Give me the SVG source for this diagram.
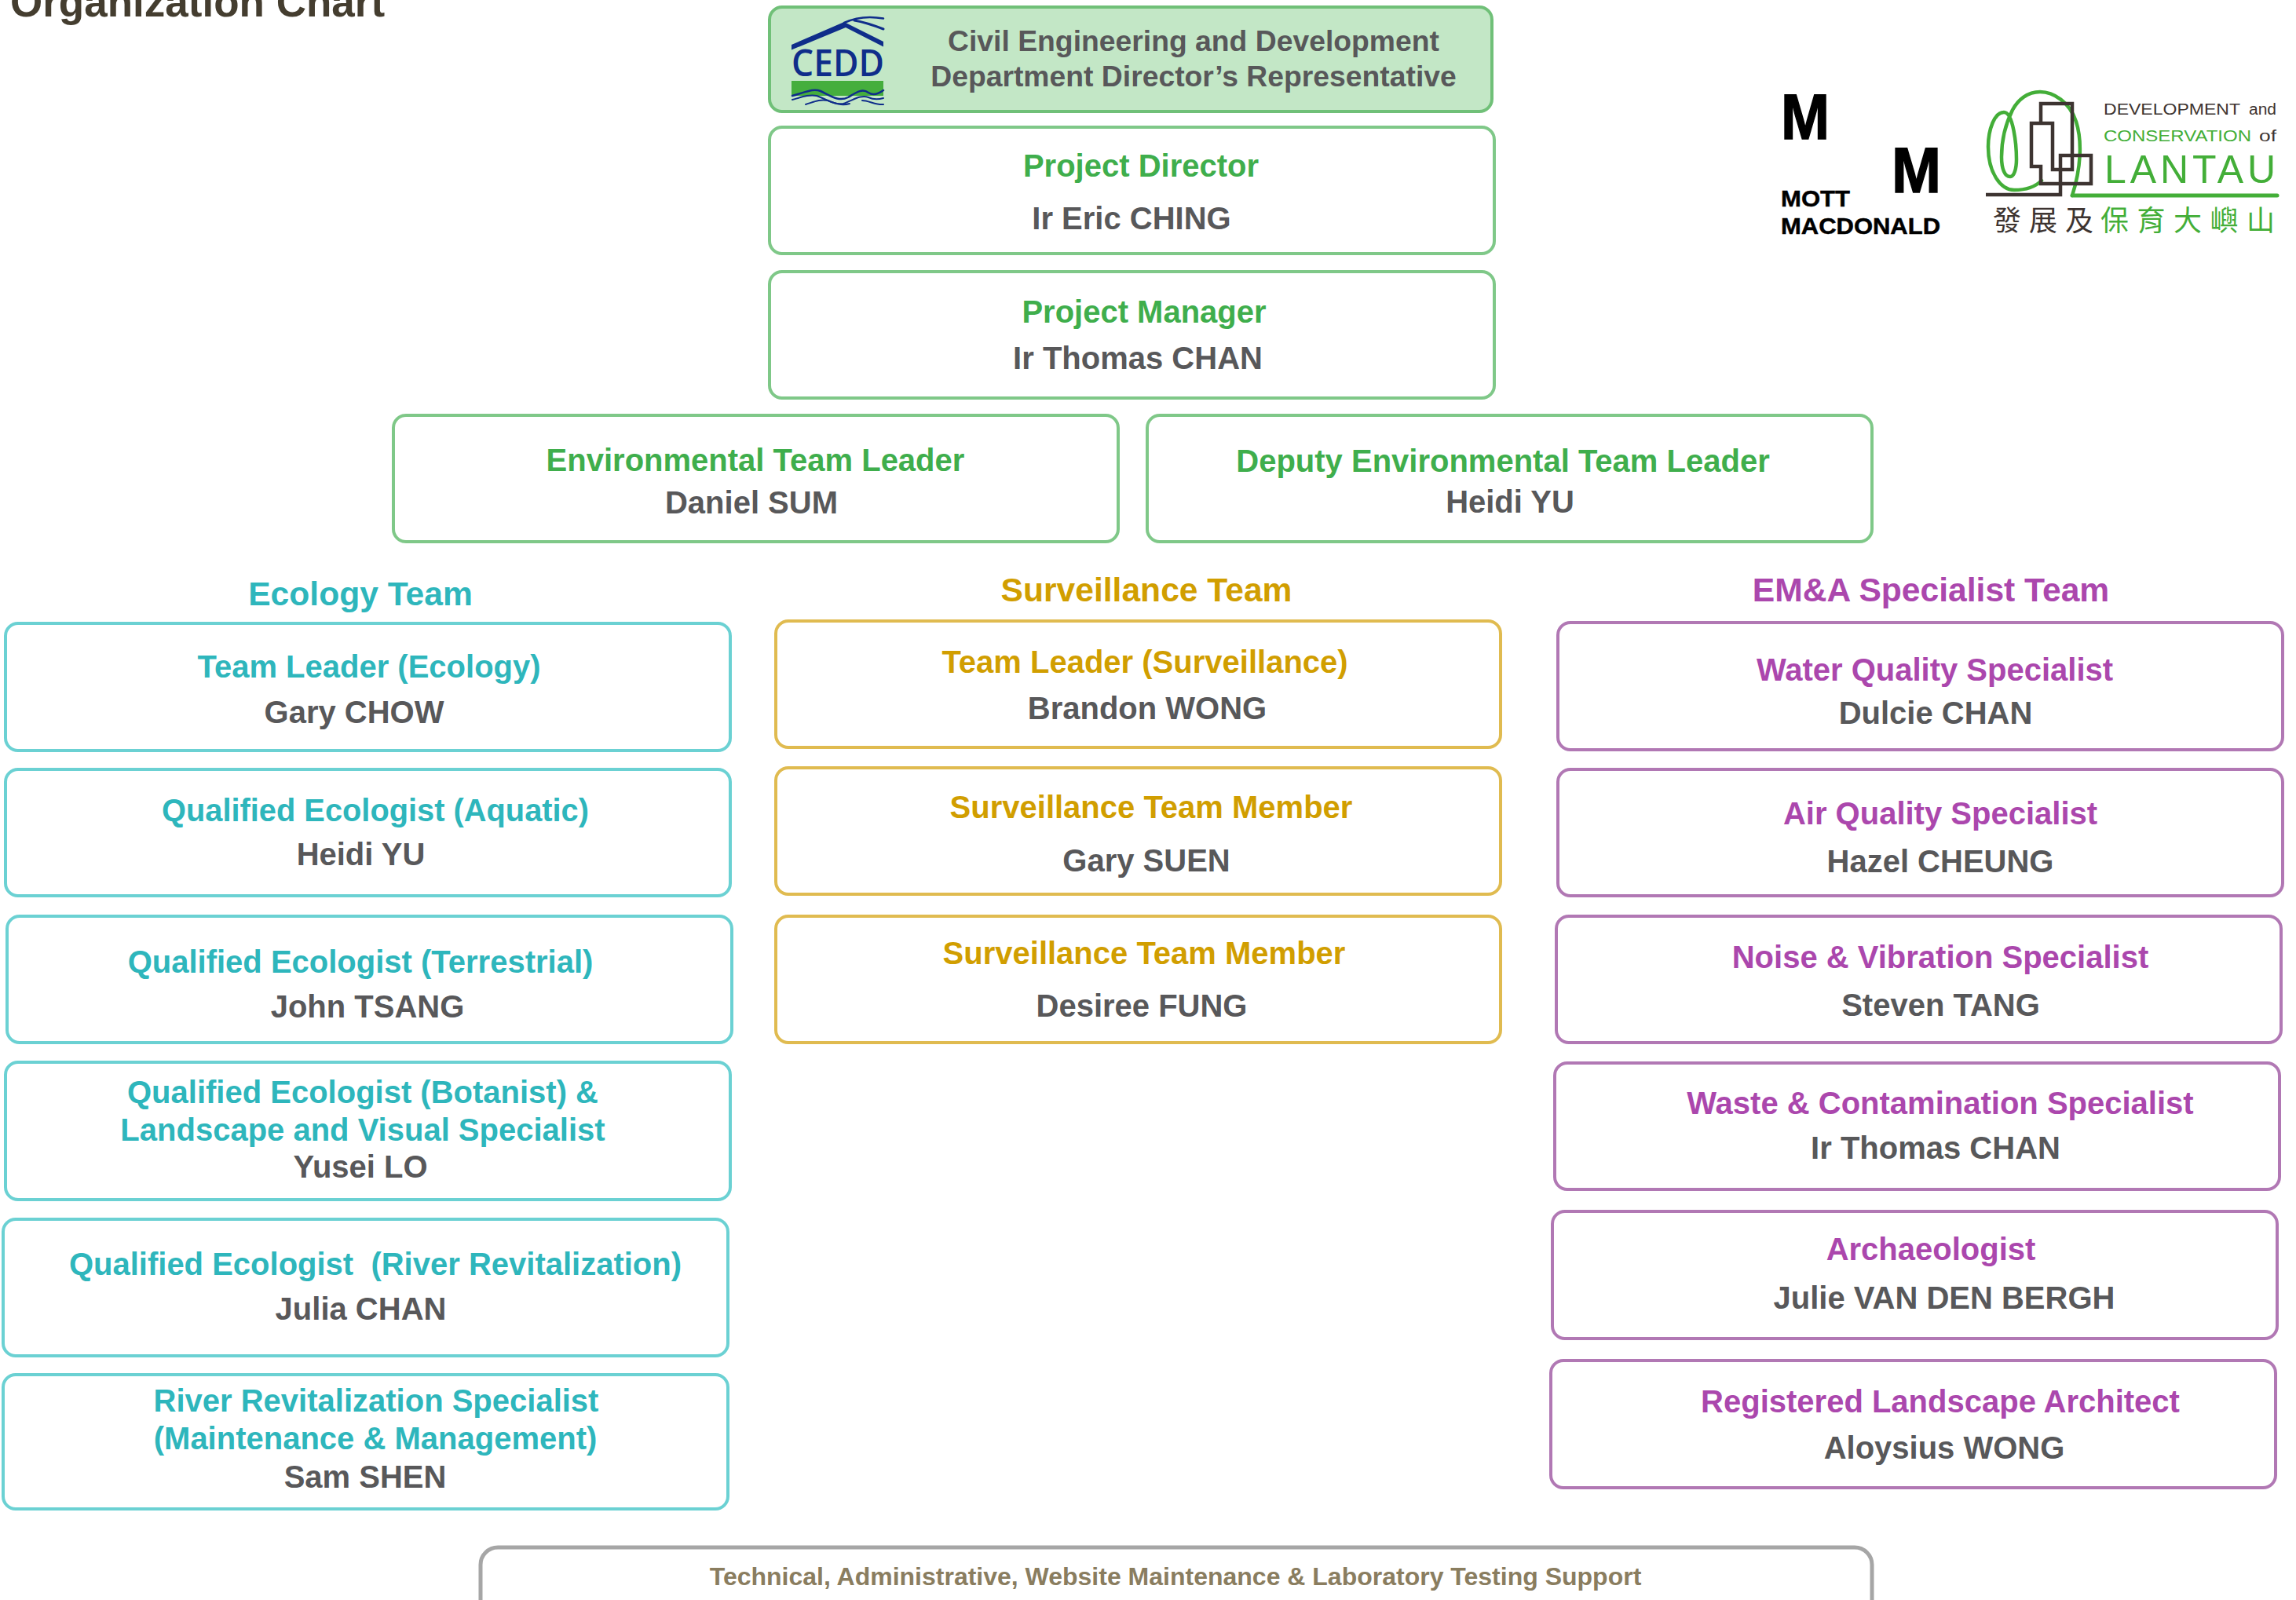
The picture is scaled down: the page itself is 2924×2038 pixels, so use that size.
<svg xmlns="http://www.w3.org/2000/svg" width="2924" height="2038" viewBox="0 0 2924 2038">
<style>
text{font-family:"Liberation Sans",Arial,sans-serif;font-weight:700;text-anchor:middle;font-size:40px}
.box{fill:#fff;stroke-width:4}
.g{stroke:#7fc888}.t{stroke:#6bd1d3}.y{stroke:#e0bb50}.p{stroke:#b178b4}
.tg{fill:#3fae4c}.tt{fill:#2eb6bc}.ty{fill:#d19e00}.tp{fill:#ab47ad}.n{fill:#58585a}
.head{font-size:42.6px}
.lg{text-anchor:start}
.lt{text-anchor:start;font-weight:400}
.ln{fill:none;stroke-linecap:round;stroke-linejoin:round}
.cjk{font-family:"Noto Sans CJK TC","Noto Sans CJK SC",sans-serif;font-size:36px;font-weight:400}
</style>
<rect width="2924" height="2038" fill="#fff"/>
<text id="title" x="13" y="21" style="text-anchor:start;font-size:53px;fill:#443d2f">Organization Chart</text>

<g id="cedd">
<rect x="980" y="9" width="920" height="133" rx="16" fill="#c3e7c6" stroke="#70c078" stroke-width="4"/>
<g id="cedd-logo">
<path d="M1008,57 L1075,28 L1125,53 V59.5 L1077,35 L1008,63.5Z" fill="#0f2d8a"/>
<path class="ln" d="M1075,29 C1090,22 1105,20 1125,23.5" stroke="#0f2d8a" stroke-width="2.5"/>
<path class="ln" d="M1088,26 C1100,28 1112,32 1125,37" stroke="#0f2d8a" stroke-width="3"/>
<text class="lg" x="1008" y="97" textLength="118" lengthAdjust="spacingAndGlyphs" style="font-family:'Open Sans',sans-serif;font-weight:600;font-size:47px;fill:#0f2d8a">CEDD</text>
<rect x="1008" y="103" width="117" height="19" fill="#45ae3d"/>
<path class="ln" d="M1009,122 C1025,118 1035,112 1045,116 C1058,122 1068,130 1080,124 C1090,118 1098,112 1106,118 C1112,122 1118,120 1125,115" stroke="#0f2d8a" stroke-width="2.5"/>
<path class="ln" d="M1009,127 C1020,124 1030,120 1040,122 C1052,126 1062,134 1074,132 C1086,128 1096,120 1106,124 C1112,127 1118,127 1125,125" stroke="#0f2d8a" stroke-width="2"/>
<path class="ln" d="M1026,133 C1036,130 1044,126 1054,128 C1064,132 1072,135 1082,132 M1098,128 C1106,128 1116,134 1125,133" stroke="#0f2d8a" stroke-width="2"/>
</g>
<text class="n" x="1520" y="65" style="font-size:37.3px">Civil Engineering and Development</text>
<text class="n" x="1520" y="110" style="font-size:37.3px">Department Director’s Representative</text>
</g>

<g id="project-director"><rect class="box g" x="980" y="162" width="923" height="161" rx="16"/>
<text class="tg" x="1453" y="225">Project Director</text><text class="n" x="1441" y="292">Ir Eric CHING</text></g>
<g id="project-manager"><rect class="box g" x="980" y="346" width="923" height="161" rx="16"/>
<text class="tg" x="1457" y="411">Project Manager</text><text class="n" x="1449" y="470">Ir Thomas CHAN</text></g>
<g id="env-leader"><rect class="box g" x="501" y="529" width="923" height="161" rx="16"/>
<text class="tg" x="962" y="600">Environmental Team Leader</text><text class="n" x="957" y="654">Daniel SUM</text></g>
<g id="deputy-leader"><rect class="box g" x="1461" y="529" width="923" height="161" rx="16"/>
<text class="tg" x="1914" y="601">Deputy Environmental Team Leader</text><text class="n" x="1923" y="653">Heidi YU</text></g>

<text id="ecology-head" class="tt head" x="459" y="771">Ecology Team</text>
<text id="surveillance-head" class="ty head" x="1460" y="766">Surveillance Team</text>
<text id="specialist-head" class="tp head" x="2459" y="766">EM&amp;A Specialist Team</text>

<g id="eco-1"><rect class="box t" x="7" y="794" width="923" height="162" rx="16"/>
<text class="tt" x="470" y="863">Team Leader (Ecology)</text><text class="n" x="451" y="921">Gary CHOW</text></g>
<g id="eco-2"><rect class="box t" x="7" y="980" width="923" height="161" rx="16"/>
<text class="tt" x="478" y="1046" style="font-size:39.8px">Qualified Ecologist (Aquatic)</text><text class="n" x="459.5" y="1102">Heidi YU</text></g>
<g id="eco-3"><rect class="box t" x="9" y="1167" width="923" height="161" rx="16"/>
<text class="tt" x="459" y="1239">Qualified Ecologist (Terrestrial)</text><text class="n" x="468" y="1296">John TSANG</text></g>
<g id="eco-4"><rect class="box t" x="7" y="1353" width="923" height="175" rx="16"/>
<text class="tt" x="462" y="1405">Qualified Ecologist (Botanist) &amp;</text><text class="tt" x="462" y="1453">Landscape and Visual Specialist</text><text class="n" x="459" y="1500">Yusei LO</text></g>
<g id="eco-5"><rect class="box t" x="4" y="1553" width="923" height="174" rx="16"/>
<text class="tt" x="478" y="1624" xml:space="preserve">Qualified Ecologist  (River Revitalization)</text><text class="n" x="459.5" y="1681">Julia CHAN</text></g>
<g id="eco-6"><rect class="box t" x="4" y="1751" width="923" height="171" rx="16"/>
<text class="tt" x="479" y="1798">River Revitalization Specialist</text><text class="tt" x="478" y="1846">(Maintenance &amp; Management)</text><text class="n" x="465" y="1895">Sam SHEN</text></g>

<g id="sur-1"><rect class="box y" x="988" y="791" width="923" height="161" rx="16"/>
<text class="ty" x="1458" y="857">Team Leader (Surveillance)</text><text class="n" x="1461" y="916">Brandon WONG</text></g>
<g id="sur-2"><rect class="box y" x="988" y="978" width="923" height="161" rx="16"/>
<text class="ty" x="1466" y="1042">Surveillance Team Member</text><text class="n" x="1460" y="1110">Gary SUEN</text></g>
<g id="sur-3"><rect class="box y" x="988" y="1167" width="923" height="161" rx="16"/>
<text class="ty" x="1457" y="1228">Surveillance Team Member</text><text class="n" x="1454" y="1295">Desiree FUNG</text></g>

<g id="spec-1"><rect class="box p" x="1984" y="793" width="923" height="162" rx="16"/>
<text class="tp" x="2464" y="867">Water Quality Specialist</text><text class="n" x="2465" y="922">Dulcie CHAN</text></g>
<g id="spec-2"><rect class="box p" x="1984" y="980" width="923" height="161" rx="16"/>
<text class="tp" x="2471" y="1050">Air Quality Specialist</text><text class="n" x="2471" y="1111">Hazel CHEUNG</text></g>
<g id="spec-3"><rect class="box p" x="1982" y="1167" width="923" height="161" rx="16"/>
<text class="tp" x="2471" y="1233">Noise &amp; Vibration Specialist</text><text class="n" x="2471.5" y="1294">Steven TANG</text></g>
<g id="spec-4"><rect class="box p" x="1980" y="1354" width="923" height="161" rx="16"/>
<text class="tp" x="2471" y="1419">Waste &amp; Contamination Specialist</text><text class="n" x="2465" y="1476">Ir Thomas CHAN</text></g>
<g id="spec-5"><rect class="box p" x="1977" y="1543" width="923" height="162" rx="16"/>
<text class="tp" x="2459" y="1605">Archaeologist</text><text class="n" x="2476" y="1667">Julie VAN DEN BERGH</text></g>
<g id="spec-6"><rect class="box p" x="1975" y="1733" width="923" height="162" rx="16"/>
<text class="tp" x="2471" y="1799">Registered Landscape Architect</text><text class="n" x="2476" y="1858">Aloysius WONG</text></g>

<g id="support"><rect x="612" y="1971" width="1772" height="200" rx="22" fill="#fff" stroke="#a6a6a6" stroke-width="5"/>
<text x="1497" y="2019" style="font-size:32px;fill:#8a7d5f">Technical, Administrative, Website Maintenance &amp; Laboratory Testing Support</text></g>

<g id="mott-macdonald">
<text class="lg" x="2268" y="177" textLength="62" lengthAdjust="spacingAndGlyphs" style="font-size:81px;fill:#000;stroke:#000;stroke-width:1.5">M</text>
<text class="lg" x="2409" y="245" textLength="63" lengthAdjust="spacingAndGlyphs" style="font-size:81px;fill:#000;stroke:#000;stroke-width:1.5">M</text>
<text class="lg" x="2268" y="263" textLength="88" lengthAdjust="spacingAndGlyphs" style="font-size:30px;fill:#000;stroke:#000;stroke-width:.5">MOTT</text>
<text class="lg" x="2268" y="298" textLength="203" lengthAdjust="spacingAndGlyphs" style="font-size:30px;fill:#000;stroke:#000;stroke-width:.5">MACDONALD</text>
</g>

<g id="lantau-logo">
<path class="ln" d="M2639,249 C2650,215 2652,180 2644,155 C2636,130 2615,117 2598,117 C2582,117 2570,127 2563,140 C2553,160 2549,180 2549,200 C2549,215 2553,225 2560,225 C2565,225 2568,215 2568,203 C2568,185 2564,143 2552,143 C2540,143 2532,165 2532,187 C2532,220 2548,242 2565,242 C2580,242 2592,238 2600,230" stroke="#43ae38" stroke-width="4.5"/>
<path d="M2639,249 H2900" fill="none" stroke="#43ae38" stroke-width="5" stroke-linecap="round"/>
<path d="M2599,157 V132 H2639 V216 H2614 V157 H2587 V212 H2599 V234 H2663 V198 H2624 V248 H2529" fill="none" stroke="#3d3431" stroke-width="4.5"/>
<text class="lt" x="2679" y="146" textLength="174" lengthAdjust="spacingAndGlyphs" style="font-size:20px;fill:#3d3431">DEVELOPMENT</text>
<text class="lt" x="2864" y="146" textLength="35" lengthAdjust="spacingAndGlyphs" style="font-size:20px;fill:#3d3431">and</text>
<text class="lt" x="2679" y="180" textLength="188" lengthAdjust="spacingAndGlyphs" style="font-size:20px;fill:#43ae38">CONSERVATION</text>
<text class="lt" x="2877" y="180" textLength="22" lengthAdjust="spacingAndGlyphs" style="font-size:20px;fill:#3d3431">of</text>
<text class="lt" x="2680" y="233" textLength="218" lengthAdjust="spacing" style="font-size:50px;fill:#43ae38">LANTAU</text>
<text class="lt cjk" x="2538" y="294" textLength="128" lengthAdjust="spacing" style="fill:#3d3431">發展及</text>
<text class="lt cjk" x="2675" y="294" textLength="222" lengthAdjust="spacing" style="fill:#43ae38">保育大嶼山</text>
</g>
</svg>
